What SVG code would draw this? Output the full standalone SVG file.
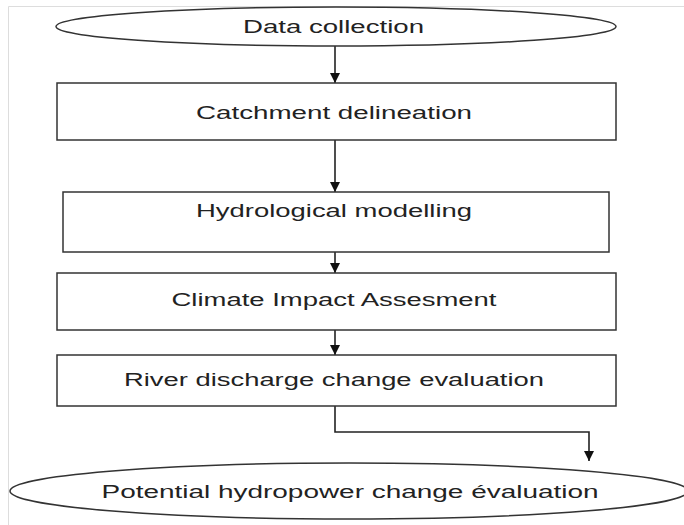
<svg xmlns="http://www.w3.org/2000/svg" width="684" height="525" viewBox="0 0 684 525">
<defs>
<marker id="ah" markerWidth="10" markerHeight="10" viewBox="0 0 10 10" refX="10" refY="5" orient="auto" markerUnits="userSpaceOnUse">
<path d="M0,0 L10,5 L0,10 Z" fill="#111"/>
</marker>
<style>
.n{fill:#fff;stroke:#333;stroke-width:1.5}
.t{font-family:"Liberation Sans",Arial,sans-serif;font-size:17.5px;fill:#222;text-anchor:middle}
.c{fill:none;stroke:#222;stroke-width:1.6;marker-end:url(#ah)}
</style>
</defs>
<rect width="684" height="525" fill="#fff"/>
<path d="M8.5,525 V6.5 H684" fill="none" stroke="#ddd" stroke-width="1"/>
<g id="connectors">
<path class="c" d="M335,46 V83"/>
<path class="c" d="M335,140 V192"/>
<path class="c" d="M335,252 V273"/>
<path class="c" d="M335,330 V355"/>
<path class="c" d="M335,406 V432 H589 V461"/>
</g>
<g id="n1"><ellipse class="n" cx="336" cy="26.5" rx="280" ry="19.5"/><text class="t" x="333.5" y="33" textLength="181" lengthAdjust="spacingAndGlyphs">Data collection</text></g>
<g id="n2"><rect class="n" x="57" y="83" width="559" height="57"/><text class="t" x="334" y="119" textLength="276" lengthAdjust="spacingAndGlyphs">Catchment delineation</text></g>
<g id="n3"><rect class="n" x="63" y="192" width="546" height="60"/><text class="t" x="334" y="217" textLength="276" lengthAdjust="spacingAndGlyphs">Hydrological modelling</text></g>
<g id="n4"><rect class="n" x="57" y="273" width="559" height="57"/><text class="t" x="334" y="306" textLength="325" lengthAdjust="spacingAndGlyphs">Climate Impact Assesment</text></g>
<g id="n5"><rect class="n" x="57" y="355" width="559" height="51"/><text class="t" x="334" y="386" textLength="420" lengthAdjust="spacingAndGlyphs">River discharge change evaluation</text></g>
<g id="n6"><ellipse class="n" cx="349" cy="491" rx="339" ry="28"/><text class="t" x="350" y="498" textLength="497" lengthAdjust="spacingAndGlyphs">Potential hydropower change évaluation</text></g>
</svg>
